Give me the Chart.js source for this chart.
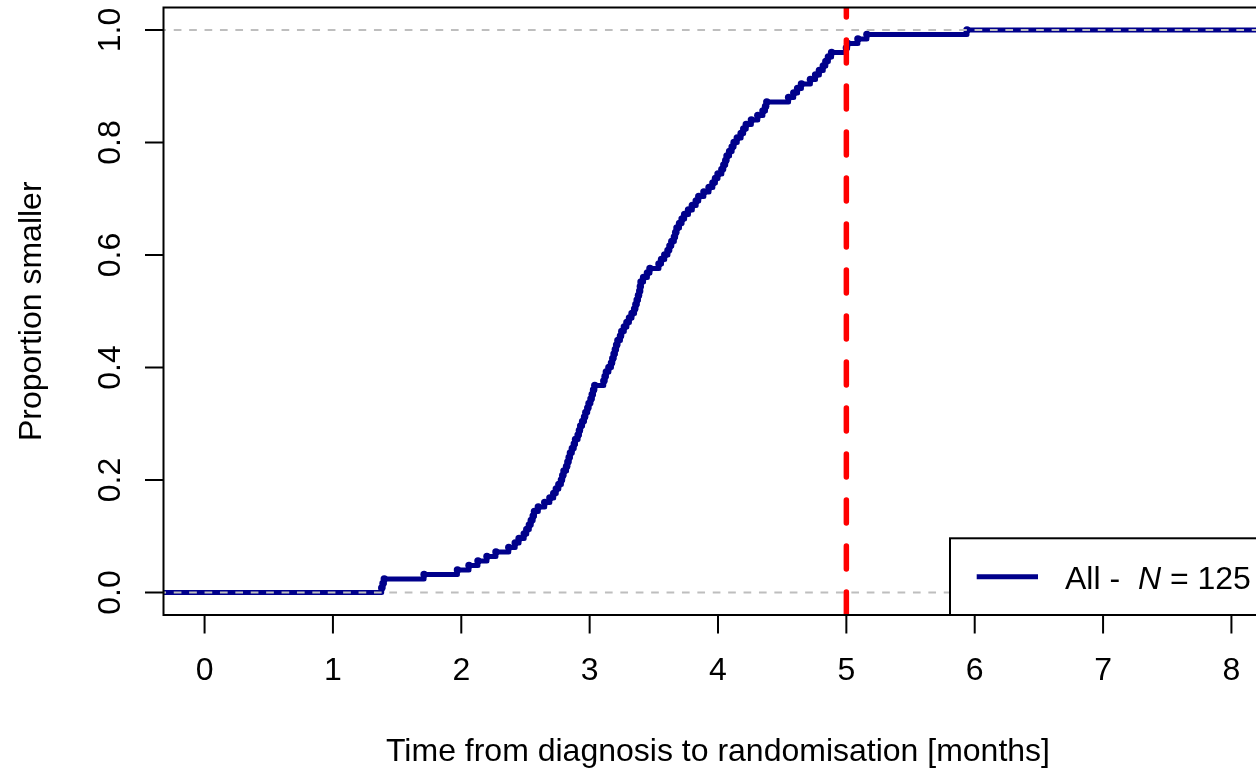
<!DOCTYPE html>
<html>
<head>
<meta charset="utf-8">
<script src="https://cdn.jsdelivr.net/npm/chart.js@4/dist/chart.umd.min.js"></script>
<style>
  html, body { margin: 0; padding: 0; background: #ffffff; overflow: hidden; }
  #wrap { width: 1256px; height: 774px; overflow: hidden; position: relative; }
  canvas { display: block; }
</style>
</head>
<body>
<div id="wrap"><canvas id="c" width="1280" height="774"></canvas></div>
<script>
// ---- data ----
// sorted times from diagnosis to randomisation [months], one per patient
const times = [
  1.38, 1.39, 1.40, 1.71, 1.97, 2.06, 2.13, 2.20, 2.27, 2.37,
  2.42, 2.45, 2.49, 2.51, 2.53, 2.545, 2.56, 2.57, 2.60, 2.65,
  2.69, 2.72, 2.74, 2.76, 2.78, 2.79, 2.80, 2.82, 2.83, 2.84,
  2.85, 2.865, 2.88, 2.89, 2.91, 2.92, 2.93, 2.945, 2.96, 2.97,
  2.985, 2.995, 3.01, 3.02, 3.03, 3.04, 3.11, 3.12, 3.13, 3.15,
  3.17, 3.18, 3.19, 3.20, 3.21, 3.22, 3.24, 3.25, 3.27, 3.29,
  3.31, 3.33, 3.35, 3.36, 3.37, 3.38, 3.39, 3.395, 3.40, 3.42,
  3.45, 3.47, 3.54, 3.56, 3.585, 3.61, 3.625, 3.64, 3.66, 3.67,
  3.68, 3.70, 3.72, 3.74, 3.77, 3.80, 3.83, 3.85, 3.89, 3.93,
  3.96, 3.98, 4.00, 4.03, 4.045, 4.06, 4.07, 4.09, 4.11, 4.125,
  4.15, 4.18, 4.20, 4.22, 4.26, 4.31, 4.35, 4.37, 4.38, 4.55,
  4.59, 4.62, 4.65, 4.72, 4.76, 4.79, 4.82, 4.84, 4.86, 4.885,
  5.00, 5.01, 5.09, 5.16, 5.94
];
const xTicks = [0, 1, 2, 3, 4, 5, 6, 7, 8];
const xTickLabels = ["0", "1", "2", "3", "4", "5", "6", "7", "8"];
const yTicks = [0, 0.2, 0.4, 0.6, 0.8, 1.0];
const yTickLabels = ["0.0", "0.2", "0.4", "0.6", "0.8", "1.0"];
const refLevels = [0, 1];        // grey dashed horizontal references
const cutoffMonths = 5;          // red dashed vertical reference
const xLimits = [0, 8];
const yLimits = [0, 1];
const xTitle = "Time from diagnosis to randomisation [months]";
const yTitle = "Proportion smaller";
const groupName = "All";

// ---- build the ECDF ----
const N = times.length;
const padX = 0.04 * (xLimits[1] - xLimits[0]);
const padY = 0.04 * (yLimits[1] - yLimits[0]);
const xMin = xLimits[0] - padX, xMax = xLimits[1] + padX;
const yMin = yLimits[0] - padY, yMax = yLimits[1] + padY;

const ecdfPts = [{x: xMin - 1, y: 0}];
const radii = [0];
times.forEach((t, i) => { ecdfPts.push({x: t, y: (i + 1) / N}); radii.push(3.7); });
ecdfPts.push({x: xMax + 1, y: 1});
radii.push(0);

const NAVY = '#00008B';
const FONT = '"Liberation Sans", Arial, Helvetica, sans-serif';

const datasets = [
  {
    data: [{x: cutoffMonths, y: yMin}, {x: cutoffMonths, y: yMax}],
    borderColor: '#FF0000', borderWidth: 5.5, borderDash: [23, 23],
    borderCapStyle: 'round', pointRadius: 0, fill: false, order: 1, clip: 0
  }
];
refLevels.forEach(v => datasets.push({
  data: [{x: xMin - 1, y: v}, {x: xMax + 1, y: v}],
  borderColor: '#BEBEBE', borderWidth: 2, borderDash: [7.7, 7.7],
  borderCapStyle: 'butt', pointRadius: 0, fill: false, order: 2, clip: 0
}));
datasets.push({
  data: ecdfPts,
  borderColor: NAVY, borderWidth: 5, stepped: 'before',
  borderCapStyle: 'butt', borderJoinStyle: 'round',
  pointRadius: radii, pointBackgroundColor: NAVY, pointBorderWidth: 0,
  pointHoverRadius: 0, fill: false, order: 3, clip: 0
});

const decor = {
  id: 'rDecor',
  afterDraw(chart) {
    const ctx = chart.ctx;
    const a = chart.chartArea;
    const xs = chart.scales.x, ys = chart.scales.y;
    ctx.save();
    // legend (bottom right)
    const lgL = 950, lgT = a.bottom - 76.7;
    ctx.fillStyle = '#ffffff';
    ctx.fillRect(lgL, lgT, a.right - lgL, a.bottom - lgT);
    ctx.strokeStyle = '#000'; ctx.lineWidth = 2;
    ctx.strokeRect(lgL, lgT, a.right - lgL, a.bottom - lgT);
    const ly = (lgT + a.bottom) / 2;
    ctx.strokeStyle = NAVY; ctx.lineWidth = 5; ctx.lineCap = 'butt';
    ctx.beginPath(); ctx.moveTo(lgL + 26.7, ly); ctx.lineTo(lgL + 88, ly); ctx.stroke();
    ctx.fillStyle = '#000';
    ctx.textBaseline = 'alphabetic'; ctx.textAlign = 'left';
    ctx.font = '32px ' + FONT;
    let tx = lgL + 115;
    const tb = ly + 12.6;
    const p1 = groupName + ' -  ';
    ctx.fillText(p1, tx, tb); tx += ctx.measureText(p1).width;
    ctx.font = 'italic 32px ' + FONT;
    ctx.fillText('N', tx, tb); tx += ctx.measureText('N').width;
    ctx.font = '32px ' + FONT;
    ctx.fillText(' = ' + N, tx, tb);

    // frame
    ctx.strokeStyle = '#000'; ctx.lineWidth = 2; ctx.lineCap = 'butt';
    ctx.strokeRect(a.left, a.top, a.right - a.left, a.bottom - a.top);

    // x axis ticks + labels
    ctx.font = '32px ' + FONT;
    ctx.textAlign = 'center'; ctx.textBaseline = 'alphabetic';
    xTicks.forEach((v, i) => {
      const px = xs.getPixelForValue(v);
      ctx.beginPath(); ctx.moveTo(px, a.bottom); ctx.lineTo(px, a.bottom + 18.5); ctx.stroke();
      ctx.fillText(xTickLabels[i], px, a.bottom + 65);
    });
    // y axis ticks + labels
    yTicks.forEach((v, i) => {
      const py = ys.getPixelForValue(v);
      ctx.beginPath(); ctx.moveTo(a.left, py); ctx.lineTo(a.left - 18.5, py); ctx.stroke();
      ctx.save();
      ctx.translate(a.left - 43.5, py);
      ctx.rotate(-Math.PI / 2);
      ctx.fillText(yTickLabels[i], 0, 0);
      ctx.restore();
    });
    // axis titles
    ctx.fillText(xTitle, (a.left + a.right) / 2, a.bottom + 146);
    ctx.save();
    ctx.translate(a.left - 122.5, (a.top + a.bottom) / 2);
    ctx.rotate(-Math.PI / 2);
    ctx.fillText(yTitle, 0, 0);
    ctx.restore();
    ctx.restore();
  }
};

new Chart(document.getElementById('c'), {
  type: 'line',
  data: { datasets },
  options: {
    responsive: false,
    animation: false,
    events: [],
    layout: { padding: { left: 163.5, top: 7.5, right: 7.5, bottom: 159 } },
    scales: {
      x: { type: 'linear', min: xMin, max: xMax, display: false },
      y: { type: 'linear', min: yMin, max: yMax, display: false }
    },
    plugins: { legend: { display: false }, tooltip: { enabled: false } }
  },
  plugins: [decor]
});
</script>
</body>
</html>
